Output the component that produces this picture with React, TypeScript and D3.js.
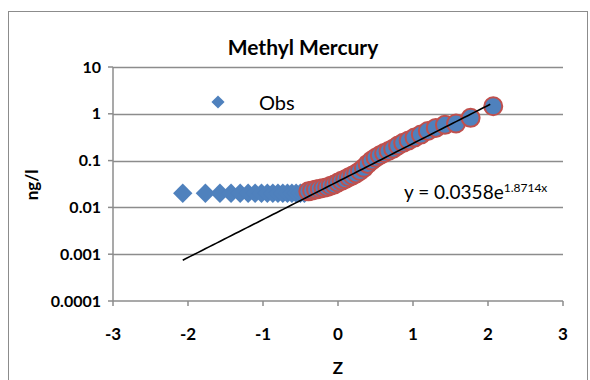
import React, { useEffect, useRef } from 'react';
import * as d3 from 'd3';

// normal scores (Z) and values for the censored points (plotted at detection limit)
const censoredZ = [-2.07, -1.768, -1.574, -1.426, -1.304, -1.198, -1.105, -1.02, -0.942, -0.869, -0.801, -0.736, -0.674, -0.615, -0.558, -0.502, -0.448];
const censoredVal = [0.02, 0.02, 0.02, 0.02, 0.02, 0.02, 0.02, 0.02, 0.02, 0.02, 0.02, 0.02, 0.02, 0.02, 0.02, 0.02, 0.02];

// detected points
const detectZ = [-0.396, -0.345, -0.293, -0.243, -0.194, -0.145, -0.097, -0.048, 0, 0.048, 0.097, 0.145, 0.194, 0.243, 0.293, 0.345, 0.396, 0.448, 0.502, 0.558, 0.615, 0.674, 0.736, 0.801, 0.869, 0.942, 1.02, 1.105, 1.198, 1.304, 1.426, 1.574, 1.768, 2.07];
const detectVal = [0.022, 0.023, 0.024, 0.025, 0.026, 0.027, 0.029, 0.031, 0.034, 0.037, 0.04, 0.044, 0.048, 0.053, 0.06, 0.07, 0.085, 0.1, 0.115, 0.13, 0.145, 0.16, 0.18, 0.21, 0.24, 0.27, 0.31, 0.36, 0.43, 0.5, 0.58, 0.62, 0.82, 1.45];

// exponential trendline y = a * e^(b x)
const trendA = 0.0358;
const trendB = 1.8714;
const trendRange = [-2.07, 2.07];

const xTicks = [-3, -2, -1, 0, 1, 2, 3];
const yTicks = [10, 1, 0.1, 0.01, 0.001, 0.0001];
const yTickLabels = ['10', '1', '0.1', '0.01', '0.001', '0.0001'];

const BLUE = '#4F81BD';
const RED = '#C0504D';
const GRID = '#8c8c8c';
const FONT = 'Lato, "Open Sans", sans-serif';

export default function App() {
  const ref = useRef<SVGSVGElement>(null);

  useEffect(() => {
    const svg = d3.select(ref.current);
    svg.selectAll('*').remove();

    const x = d3.scaleLinear().domain([-3, 3]).range([113, 563]);
    const y = d3.scaleLog().domain([0.0001, 10]).range([301, 67]);

    // chart border
    svg.append('rect')
      .attr('x', 8.5).attr('y', 11.5)
      .attr('width', 579).attr('height', 400)
      .attr('fill', 'white').attr('stroke', GRID).attr('stroke-width', 1);

    // title
    svg.append('text')
      .attr('x', 303).attr('y', 55)
      .attr('text-anchor', 'middle')
      .attr('font-family', FONT).attr('font-weight', 'bold').attr('font-size', 21)
      .text('Methyl Mercury');

    // gridlines
    svg.selectAll('line.grid')
      .data(yTicks.slice(0, 5))
      .enter()
      .append('line')
      .attr('class', 'grid')
      .attr('x1', x(-3)).attr('x2', x(3))
      .attr('y1', d => Math.round(y(d)) + 0.5).attr('y2', d => Math.round(y(d)) + 0.5)
      .attr('stroke', GRID).attr('stroke-width', 1.5);

    // axes
    svg.append('line')
      .attr('x1', x(-3)).attr('x2', x(-3))
      .attr('y1', y(10)).attr('y2', y(0.0001))
      .attr('stroke', GRID).attr('stroke-width', 1.5);
    svg.append('line')
      .attr('x1', x(-3)).attr('x2', x(3))
      .attr('y1', y(0.0001)).attr('y2', y(0.0001))
      .attr('stroke', GRID).attr('stroke-width', 1.5);

    svg.selectAll('line.ytick')
      .data(yTicks)
      .enter()
      .append('line')
      .attr('class', 'ytick')
      .attr('x1', x(-3) - 5).attr('x2', x(-3))
      .attr('y1', d => y(d)).attr('y2', d => y(d))
      .attr('stroke', GRID).attr('stroke-width', 1.5);

    svg.selectAll('line.xtick')
      .data(xTicks)
      .enter()
      .append('line')
      .attr('class', 'xtick')
      .attr('x1', d => x(d)).attr('x2', d => x(d))
      .attr('y1', y(0.0001)).attr('y2', y(0.0001) + 5)
      .attr('stroke', GRID).attr('stroke-width', 1.5);

    svg.selectAll('text.ylab')
      .data(yTicks)
      .enter()
      .append('text')
      .attr('class', 'ylab')
      .attr('x', 101).attr('y', d => y(d) + 5.5)
      .attr('text-anchor', 'end')
      .attr('font-family', FONT).attr('font-weight', 'bold').attr('font-size', 16)
      .text((d, i) => yTickLabels[i]);

    svg.selectAll('text.xlab')
      .data(xTicks)
      .enter()
      .append('text')
      .attr('class', 'xlab')
      .attr('x', d => x(d)).attr('y', 340)
      .attr('text-anchor', 'middle')
      .attr('font-family', FONT).attr('font-weight', 'bold').attr('font-size', 17)
      .text(d => String(d));

    // axis titles
    svg.append('text')
      .attr('x', 338).attr('y', 374)
      .attr('text-anchor', 'middle')
      .attr('font-family', FONT).attr('font-weight', 'bold').attr('font-size', 17)
      .text('Z');
    svg.append('text')
      .attr('transform', 'translate(38,185) rotate(-90)')
      .attr('text-anchor', 'middle')
      .attr('font-family', FONT).attr('font-weight', 'bold').attr('font-size', 17)
      .text('ng/l');

    const diamond = d3.symbol().type(d3.symbolDiamond2).size(240);

    // censored points
    svg.selectAll('path.cens')
      .data(censoredZ)
      .enter()
      .append('path')
      .attr('class', 'cens')
      .attr('d', diamond)
      .attr('transform', (d, i) => 'translate(' + x(d) + ',' + y(censoredVal[i]) + ')')
      .attr('fill', BLUE);

    // detected points
    svg.selectAll('circle.det')
      .data(detectZ)
      .enter()
      .append('circle')
      .attr('class', 'det')
      .attr('cx', d => x(d))
      .attr('cy', (d, i) => y(detectVal[i]))
      .attr('r', 9)
      .attr('fill', BLUE)
      .attr('stroke', RED).attr('stroke-width', 2);

    // trendline
    const trendX = d3.range(trendRange[0], trendRange[1] + 0.001, 0.05);
    const line = d3.line<number>()
      .x(d => x(d))
      .y(d => y(trendA * Math.exp(trendB * d)));
    svg.append('path')
      .attr('d', line(trendX))
      .attr('fill', 'none')
      .attr('stroke', 'black').attr('stroke-width', 1.6);

    // legend
    svg.append('path')
      .attr('d', d3.symbol().type(d3.symbolDiamond2).size(110))
      .attr('transform', 'translate(218,102)')
      .attr('fill', BLUE);
    svg.append('text')
      .attr('x', 259).attr('y', 110)
      .attr('font-family', FONT).attr('font-size', 20)
      .text('Obs');

    // trendline equation
    const eq = svg.append('text')
      .attr('x', 404).attr('y', 199)
      .attr('font-family', FONT).attr('font-size', 19);
    eq.append('tspan').text('y = 0.0358e');
    eq.append('tspan').attr('dy', -7).attr('font-size', 12).text('1.8714x');
  }, []);

  return (
    <svg
      ref={ref}
      width={590}
      height={380}
      style={{ position: 'absolute', left: 0, top: 0, background: 'white' }}
    />
  );
}
